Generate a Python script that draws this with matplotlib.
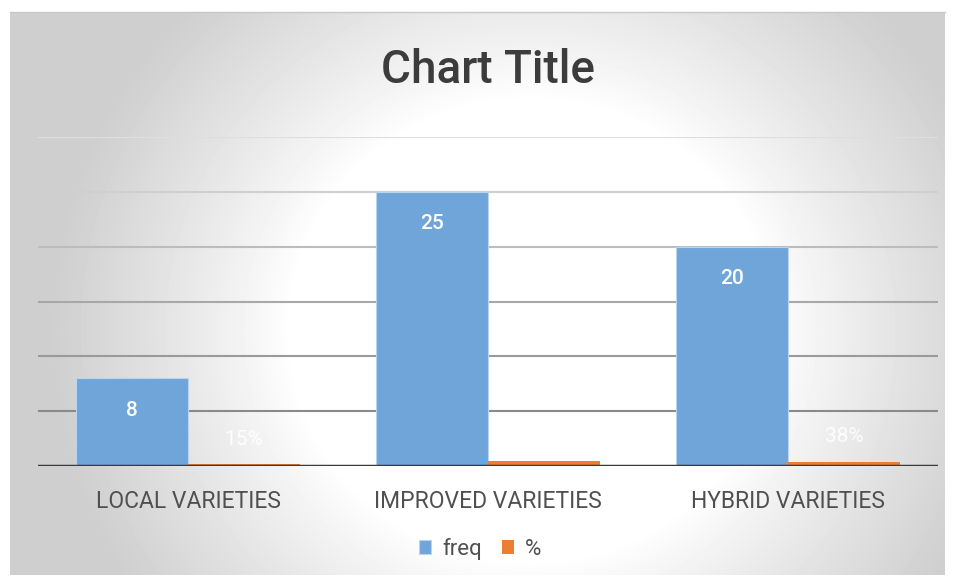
import numpy as np
import matplotlib.pyplot as plt

plt.rcParams['font.family'] = ['Roboto', 'DejaVu Sans']

categories = ['LOCAL VARIETIES', 'IMPROVED VARIETIES', 'HYBRID VARIETIES']
freq = [8, 25, 20]
pct = [0.15, 0.47, 0.38]
pct_labels = ['15%', '47%', '38%']

W, H = 954, 577
fig = plt.figure(figsize=(W / 100, H / 100), dpi=100)
fig.patch.set_facecolor('white')

# radial gradient background of the chart area (white centre, grey edges)
bg = fig.add_axes([10 / W, 2 / H, 935 / W, 563 / H], zorder=0)
py, px = np.mgrid[12:575:1, 10:945:1]
r = np.sqrt(((px - 530) / 240.0) ** 2 + ((py - 330) / 230.0) ** 2)
t = np.clip((r - 1.0) / 1.0, 0, 1)
shade = 1.0 - 0.19 * t ** 0.9
bg.imshow(shade, cmap='gray', vmin=0, vmax=1, aspect='auto', extent=[0, 1, 0, 1])
bg.set_axis_off()
fig.add_artist(plt.Line2D([10 / W, 945 / W], [565 / H, 565 / H], color='#c8c8c8', lw=1))

ax = fig.add_axes([38 / W, 111 / H, 900 / W, 329 / H], zorder=1)
ax.patch.set_alpha(0)

x = np.arange(len(categories))
bw = 0.373
grid_cols = ['#8a8a8a', '#9a9a9a', '#a8a8a8', '#bcbcbc', '#cfcfcf', '#dedede']
for val, c in zip(range(5, 31, 5), grid_cols):
    ax.axhline(val, color=c, lw=1.5, zorder=1)

b1 = ax.bar(x - bw / 2, freq, width=bw, color='#6fa5d9', edgecolor='#b8d5f0', lw=0.8, label='freq', zorder=2)
b2 = ax.bar(x + bw / 2, pct, width=bw, color='#ed7d31', label='%', zorder=2)
ax.axhline(0, color='#3a3a3a', lw=2.5, zorder=3)

for rect, v in zip(b1, freq):
    ax.annotate(str(v), (rect.get_x() + rect.get_width() / 2, v), xytext=(0, -23),
                textcoords='offset points', ha='center', va='center',
                color='white', fontsize=15, fontweight='medium', zorder=4)
for rect, v, s in zip(b2, pct, pct_labels):
    ax.annotate(s, (rect.get_x() + rect.get_width() / 2, v), xytext=(0, 18),
                textcoords='offset points', ha='center', va='center',
                color='white', alpha=0.9, fontsize=15, zorder=4)

ax.set_xlim(-0.5, 2.5)
ax.set_ylim(0, 30)
ax.set_xticks(x)
ax.set_xticklabels(categories, fontsize=16.5, color='#505050')
ax.tick_params(axis='x', length=0, pad=17)
ax.set_yticks([])
for s in ax.spines.values():
    s.set_visible(False)

fig.text(488 / W, 1 - 70 / H, 'Chart Title', ha='center', va='center',
         fontsize=33, fontweight='medium', color='#3c3c3c')

fig.legend(handles=[b1, b2], labels=['freq', '%'], loc='center',
           bbox_to_anchor=(480 / W, 1 - 549 / H), ncol=2, frameon=False,
           fontsize=16, labelcolor='#505050', handlelength=0.55, handleheight=0.55,
           handletextpad=0.5, columnspacing=0.9)

fig.savefig('out.png', dpi=100)
